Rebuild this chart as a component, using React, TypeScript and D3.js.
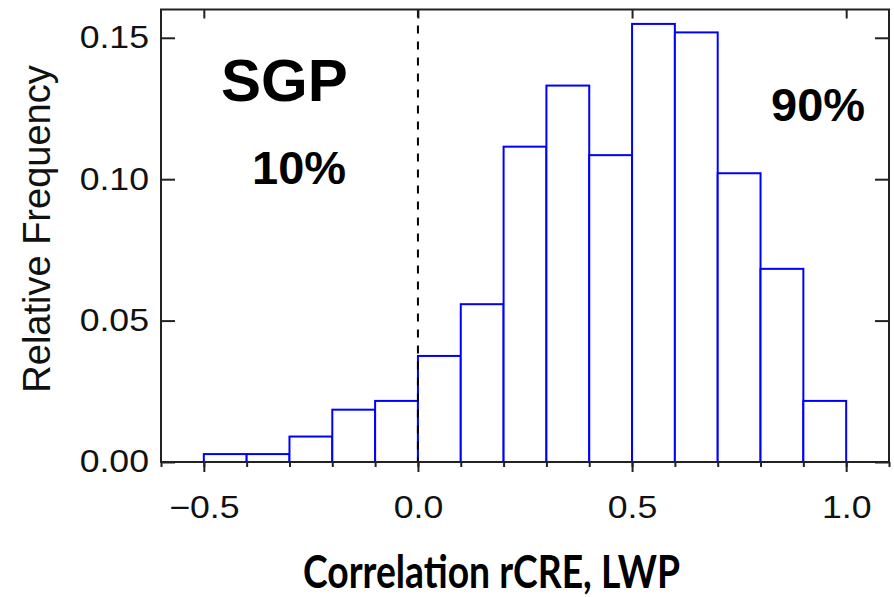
import React, { useEffect, useRef } from "react";
import * as d3 from "d3";

// histogram bins (left edges) and relative frequency
const binStarts = [-0.5, -0.4, -0.3, -0.2, -0.1, 0.0, 0.1, 0.2, 0.3, 0.4, 0.5, 0.6, 0.7, 0.8, 0.9];
const frequencies = [0.0028, 0.0028, 0.009, 0.0185, 0.0216, 0.0375, 0.0558, 0.1115, 0.1331, 0.1085, 0.1549, 0.1519, 0.1021, 0.0683, 0.0216];
const binWidth = 0.1;

const xMajorTicks = [-0.5, 0.0, 0.5, 1.0];
const xMinorTicks = [-0.6, -0.5, -0.4, -0.3, -0.2, -0.1, 0.0, 0.1, 0.2, 0.3, 0.4, 0.5, 0.6, 0.7, 0.8, 0.9, 1.0, 1.1];
const yTicks = [0.0, 0.05, 0.1, 0.15];

const W = 894;
const H = 597;

const App = () => {
  const ref = useRef<SVGSVGElement>(null);

  useEffect(() => {
    const svg = d3.select(ref.current);
    svg.selectAll("*").remove();

    const margin = { top: 9.5, right: 5, bottom: 135, left: 161 };
    const x = d3.scaleLinear().domain([-0.6, 1.1]).range([margin.left, W - margin.right]);
    const y = d3.scaleLinear().domain([0, 0.16]).range([H - margin.bottom, margin.top]);

    const font = "'Liberation Sans', Arial, Helvetica, sans-serif";
    const axisColor = "#222";

    svg.append("rect").attr("width", W).attr("height", H).attr("fill", "white");

    // bars
    svg
      .append("g")
      .selectAll("rect")
      .data(binStarts)
      .enter()
      .append("rect")
      .attr("x", (d) => x(d))
      .attr("y", (d, i) => y(frequencies[i]))
      .attr("width", (d) => x(d + binWidth) - x(d))
      .attr("height", (d, i) => y(0) - y(frequencies[i]))
      .attr("fill", "white")
      .attr("stroke", "#0000ff")
      .attr("stroke-width", 2);

    // dashed zero line
    svg
      .append("line")
      .attr("x1", x(0))
      .attr("x2", x(0))
      .attr("y1", y(0.16))
      .attr("y2", y(0))
      .attr("stroke", "#000")
      .attr("stroke-width", 2)
      .attr("stroke-dasharray", "8,8");

    const styleAxis = (g) => {
      g.select(".domain").remove();
      g.selectAll("line").attr("stroke", axisColor).attr("stroke-width", 2);
      g.selectAll("text")
        .attr("font-family", font)
        .attr("font-size", 31)
        .attr("fill", "#111");
    };

    // bottom: minor ticks outward
    svg
      .append("g")
      .attr("transform", `translate(0,${y(0)})`)
      .call(d3.axisBottom(x).tickValues(xMinorTicks).tickSize(5).tickFormat(() => ""))
      .call(styleAxis);

    // bottom: major ticks + labels
    const xAxisG = svg
      .append("g")
      .attr("transform", `translate(0,${y(0)})`)
      .call(
        d3
          .axisBottom(x)
          .tickValues(xMajorTicks)
          .tickSize(10)
          .tickPadding(24)
          .tickFormat((d) => (d < 0 ? "\u2212" : "") + d3.format(".1f")(Math.abs(d)))
      )
      .call(styleAxis);
    xAxisG.selectAll(".tick text").attr("transform", "scale(1.15,1)").attr("x", 0);

    // top: major ticks inward
    svg
      .append("g")
      .attr("transform", `translate(0,${y(0.16)})`)
      .call(d3.axisTop(x).tickValues(xMajorTicks).tickSize(-9).tickFormat(() => ""))
      .call(styleAxis);

    // left
    const yAxisG = svg
      .append("g")
      .attr("transform", `translate(${x(-0.6)},0)`)
      .call(d3.axisLeft(y).tickValues(yTicks).tickSize(-14).tickPadding(12).tickFormat(d3.format(".2f")))
      .call(styleAxis);
    yAxisG.selectAll(".tick text").attr("transform", "scale(1.15,1)").attr("x", -12 / 1.15);

    // right
    svg
      .append("g")
      .attr("transform", `translate(${x(1.1)},0)`)
      .call(d3.axisRight(y).tickValues(yTicks).tickSize(-14).tickFormat(() => ""))
      .call(styleAxis);

    // frame
    svg
      .append("rect")
      .attr("x", x(-0.6))
      .attr("y", y(0.16))
      .attr("width", x(1.1) - x(-0.6))
      .attr("height", y(0) - y(0.16))
      .attr("fill", "none")
      .attr("stroke", axisColor)
      .attr("stroke-width", 2);

    // y label
    svg
      .append("text")
      .attr("transform", `translate(50, 229) rotate(-90)`)
      .attr("text-anchor", "middle")
      .attr("font-family", font)
      .attr("font-size", 38)
      .attr("fill", "#111")
      .text("Relative Frequency");

    // x label
    svg
      .append("text")
      .attr("x", 303)
      .attr("y", 588)
      .attr("textLength", 377)
      .attr("lengthAdjust", "spacingAndGlyphs")
      .attr("font-family", "Lato, 'Open Sans', sans-serif")
      .attr("font-weight", 700)
      .attr("font-size", 45)
      .attr("fill", "#000")
      .text("Correlation rCRE, LWP");

    // annotations
    const notes = [
      { t: "SGP", x: 221, y: 101, s: 60 },
      { t: "10%", x: 252, y: 184, s: 47 },
      { t: "90%", x: 771, y: 121, s: 47 },
    ];
    svg
      .append("g")
      .selectAll("text")
      .data(notes)
      .enter()
      .append("text")
      .attr("x", (d) => d.x)
      .attr("y", (d) => d.y)
      .attr("font-family", font)
      .attr("font-weight", 700)
      .attr("font-size", (d) => d.s)
      .attr("fill", "#000")
      .text((d) => d.t);
  }, []);

  return <svg ref={ref} width={W} height={H} style={{ position: "absolute", left: 0, top: 0 }}></svg>;
};

export default App;
